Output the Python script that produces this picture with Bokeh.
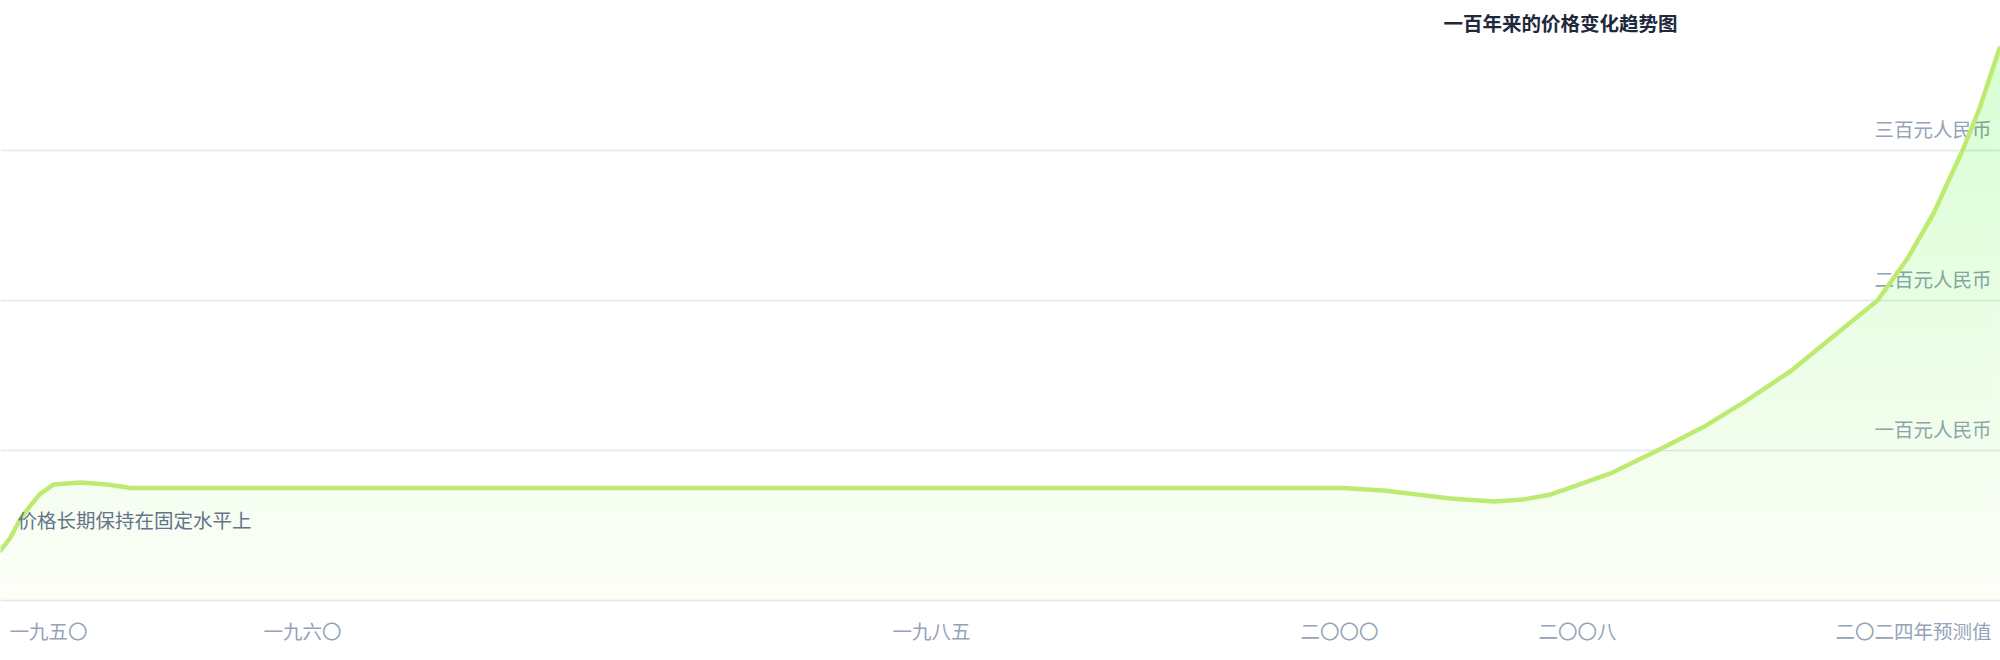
import numpy as np
from bokeh.plotting import figure
from bokeh.embed import file_html
from bokeh.resources import INLINE
from bokeh.models import Grid, FixedTicker
from bokeh.core.properties import value

# ---- data ----
x_vals = [0.0, 0.5, 1.0, 1.5, 2.0, 2.65, 4.0, 5.35, 6.5, 67.15, 69.15, 70.85, 72.5,
          74.65, 76.15, 77.5, 78.4, 80.6, 82.85, 85.1, 87.3, 89.55, 92.0, 93.85,
          95.35, 96.65, 98.1, 98.95, 99.95]
y_vals = [33.3, 42.0, 54.7, 63.3, 71.3, 77.3, 78.7, 77.3, 75.0, 75.0, 73.3, 70.7, 68.0,
          66.0, 67.3, 70.7, 74.7, 85.3, 100.0, 115.3, 133.3, 153.3, 180.0, 200.0,
          228.0, 258.0, 300.0, 328.0, 368.0]

grid_vals = [0, 100, 200, 300]
y_tick_vals = [100, 200, 300]
y_tick_labels = ["一百元人民币", "二百元人民币", "三百元人民币"]

x_tick_vals = [0.45, 15.1, 46.55, 66.95, 78.85, 99.55]
x_tick_labels = ["一九五〇", "一九六〇", "一九八五", "二〇〇〇", "二〇〇八", "二〇二四年预测值"]

title_text = "一百年来的价格变化趋势图"
note_text = "价格长期保持在固定水平上"

# ---- styling ----
FONT = "Noto Sans CJK SC"
LIME = (190, 242, 100)
W, H = 2000, 660

p = figure(width=W, height=H, output_backend="svg", toolbar_location=None,
           x_range=(0.0, 100.0), y_range=(-40.0, 400.0), min_border=0)
p.xaxis.visible = False
p.yaxis.visible = False
p.xgrid.visible = False
p.ygrid.visible = False
p.outline_line_color = None
p.background_fill_color = "white"
p.border_fill_color = "white"

p.add_layout(Grid(dimension=1, ticker=FixedTicker(ticks=grid_vals),
                  grid_line_color="#e2e8f0", grid_line_width=1.5))

# y labels (drawn below the area so the fill tints them)
p.text(x=[99.55] * len(y_tick_vals), y=[v + 15 for v in y_tick_vals], text=y_tick_labels,
       text_font=value(FONT), text_font_size="19.5px", text_color="#94a3b8",
       text_align="right", text_baseline="middle")

# gradient-like area: stacked translucent layers
xs = np.array(x_vals)
ys = np.array(y_vals)
levels = np.arange(0, 370, 10)
def target_alpha(v):
    return 0.05 + 0.21 * min(v, 368) / 368.0
prev = 0.0
for lv in levels:
    a_t = target_alpha(lv)
    a_k = 1 - (1 - a_t) / (1 - prev)
    prev = a_t
    top = np.maximum(ys, lv)
    p.varea(x=xs, y1=np.full_like(xs, lv), y2=top,
            fill_color="#%02x%02x%02x" % LIME, fill_alpha=float(a_k))

p.line(x=x_vals, y=y_vals, line_color="#bdeb72", line_width=4.5,
       line_join="round", line_cap="round")

# x labels
p.text(x=[x_tick_vals[0]], y=[-20], text=[x_tick_labels[0]], text_font=value(FONT),
       text_font_size="19.5px", text_color="#94a3b8", text_align="left", text_baseline="middle")
p.text(x=x_tick_vals[1:-1], y=[-20] * 4, text=x_tick_labels[1:-1], text_font=value(FONT),
       text_font_size="19.5px", text_color="#94a3b8", text_align="center", text_baseline="middle")
p.text(x=[x_tick_vals[-1]], y=[-20], text=[x_tick_labels[-1]], text_font=value(FONT),
       text_font_size="19.5px", text_color="#94a3b8", text_align="right", text_baseline="middle")

# annotation
p.text(x=[0.85], y=[54], text=[note_text], text_font=value(FONT), text_font_size="19.5px",
       text_color="#64748b", text_align="left", text_baseline="middle")

# title
p.text(x=[78.0], y=[385.3], text=[title_text], text_font=value(FONT), text_font_size="19.5px",
       text_font_style="bold", text_color="#1e293b", text_align="center", text_baseline="middle")

open("out.html", "w").write(file_html(p, INLINE))
